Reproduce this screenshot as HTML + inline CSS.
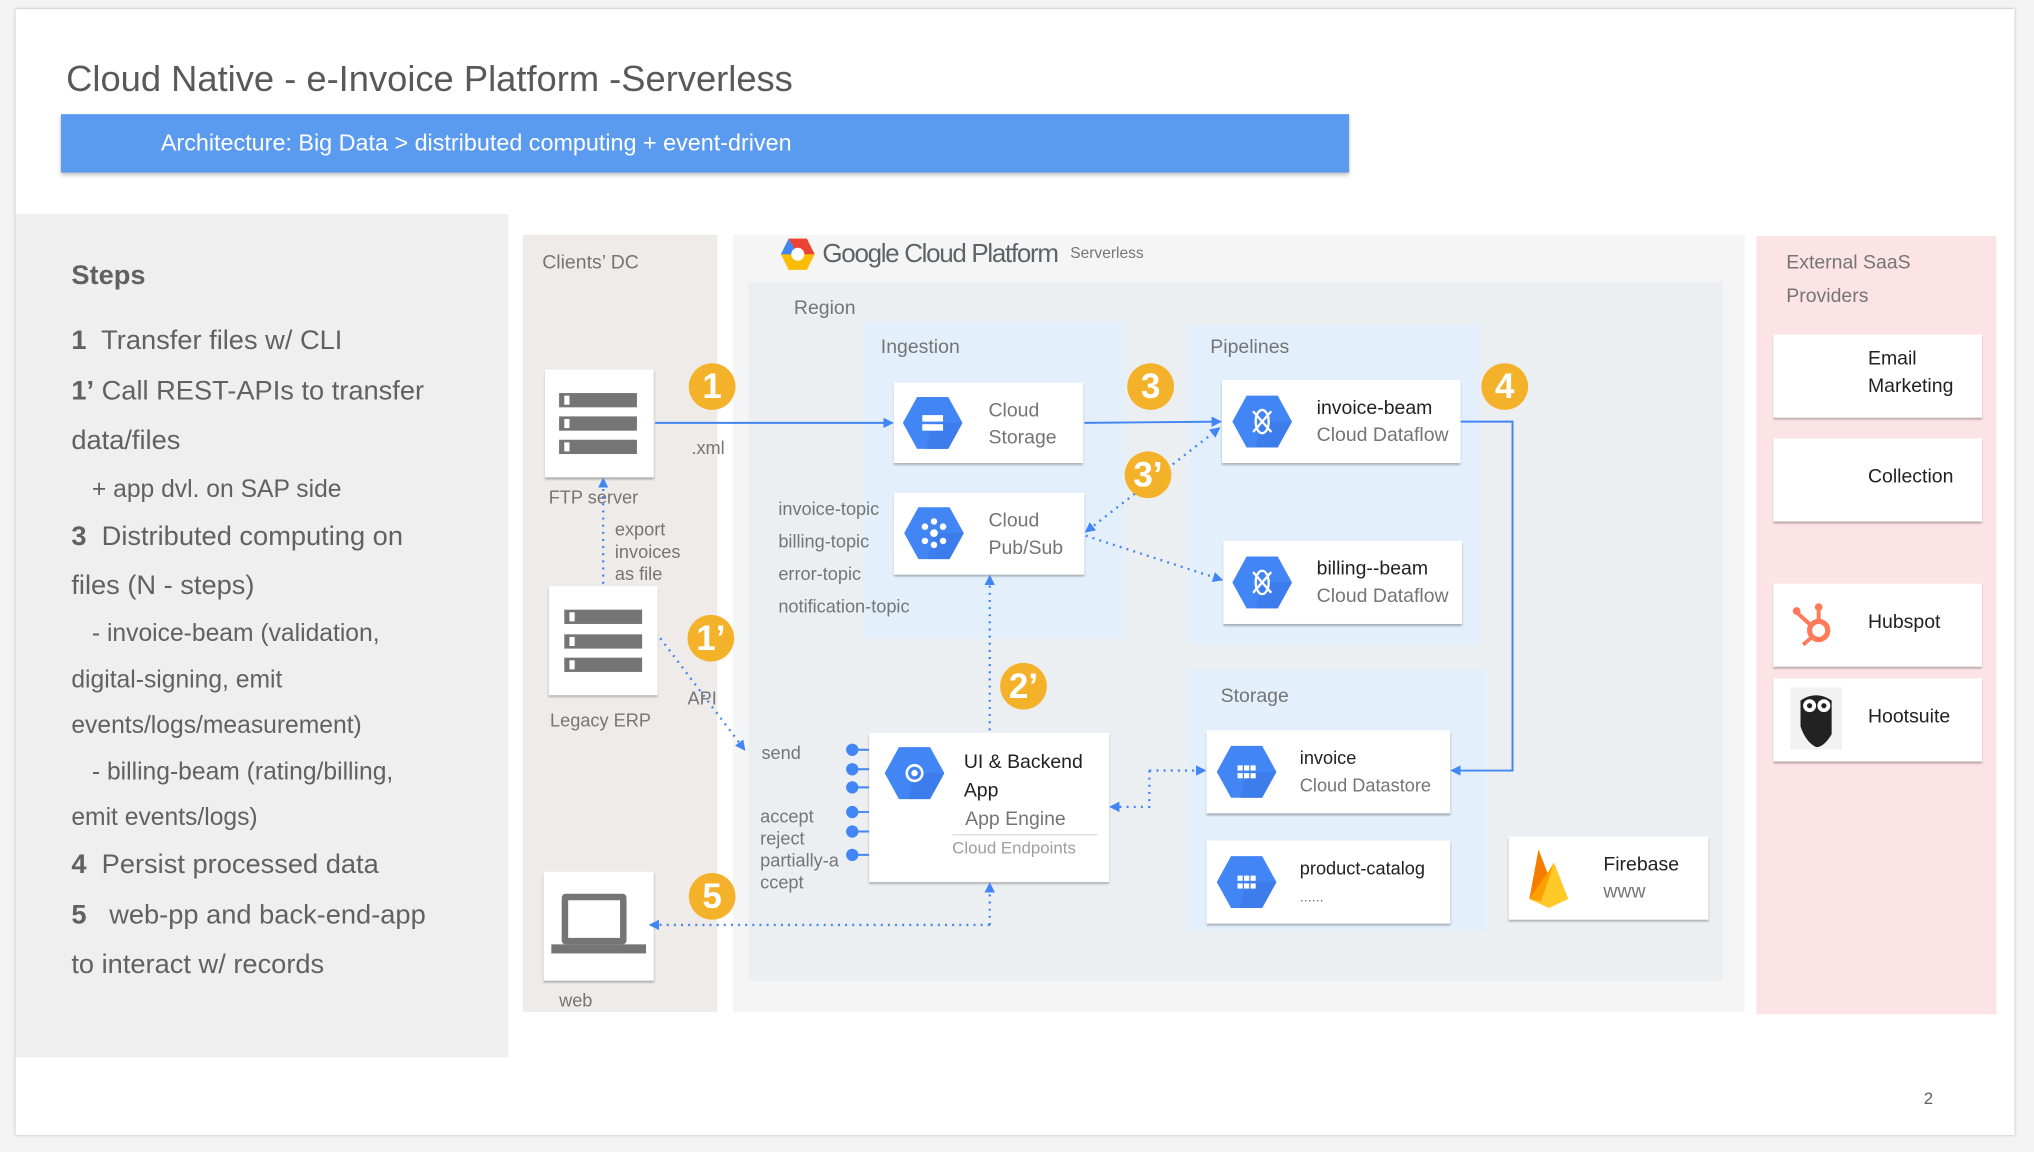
<!DOCTYPE html>
<html><head><meta charset="utf-8">
<style>
html,body{margin:0;padding:0;background:#fff;}
#wrap{width:2034px;height:1152px;overflow:hidden;position:relative;background:#f3f3f3;}
#s{position:absolute;left:0;top:0;width:1568px;height:888px;transform:scale(1.2972);transform-origin:0 0;font-family:"Liberation Sans",sans-serif;}
.a{position:absolute;}
.card{position:absolute;background:#fff;box-shadow:0 1.5px 1.5px rgba(0,0,0,.28);}
.lbl{position:absolute;color:#757575;font-size:15px;}
.t{position:absolute;color:#212121;font-size:15px;line-height:21px;}
.g{color:#757575;}
.badge{position:absolute;width:36px;height:36px;border-radius:50%;background:#f4b22a;color:#fff;font-weight:bold;font-size:27px;text-align:center;line-height:36px;}
.step{position:absolute;left:55px;color:#616161;font-size:21px;}
.srv{position:absolute;width:60px;height:11px;background:#757575;}
.srv:before{content:"";position:absolute;left:4px;top:2px;width:4px;height:7px;background:#fff;}
</style></head><body>
<div id="wrap"><div id="s">
<div class="a" style="left:12px;top:7px;width:1541px;height:868px;background:#fff;box-shadow:0 0 2px rgba(0,0,0,.3);"></div>
<div class="a" style="left:51px;top:45px;font-size:28px;color:#595959;">Cloud Native - e-Invoice Platform -Serverless</div>
<div class="a" style="left:47px;top:88px;width:993px;height:45px;background:#5a9bf0;box-shadow:0 2px 3px rgba(0,0,0,.25);"></div>
<div class="a" style="left:124px;top:100px;font-size:18px;color:#fff;">Architecture: Big Data &gt; distributed computing + event-driven</div>

<div class="a" style="left:12px;top:165px;width:380px;height:650px;background:#efefef;"></div>
<div class="step" style="top:201px;font-weight:bold;font-size:21px;">Steps</div>
<div class="step" style="top:251px;"><b>1</b>&nbsp; Transfer files w/ CLI</div>
<div class="step" style="top:290px;"><b>1’</b> Call REST-APIs to transfer</div>
<div class="step" style="top:328px;">data/files</div>
<div class="step" style="top:367px;font-size:19px;">&nbsp;&nbsp;&nbsp;+ app dvl. on SAP side</div>
<div class="step" style="top:402px;"><b>3</b>&nbsp; Distributed computing on</div>
<div class="step" style="top:440px;">files (N - steps)</div>
<div class="step" style="top:478px;font-size:19px;">&nbsp;&nbsp;&nbsp;- invoice-beam (validation,</div>
<div class="step" style="top:514px;font-size:19px;">digital-signing, emit</div>
<div class="step" style="top:549px;font-size:19px;">events/logs/measurement)</div>
<div class="step" style="top:585px;font-size:19px;">&nbsp;&nbsp;&nbsp;- billing-beam (rating/billing,</div>
<div class="step" style="top:620px;font-size:19px;">emit events/logs)</div>
<div class="step" style="top:655px;"><b>4</b>&nbsp; Persist processed data</div>
<div class="step" style="top:694px;"><b>5</b>&nbsp;&nbsp; web-pp and back-end-app</div>
<div class="step" style="top:732px;">to interact w/ records</div>

<div class="a" style="left:403px;top:181px;width:150px;height:599px;background:#efebe9;"></div>
<div class="lbl" style="left:418px;top:194px;">Clients’ DC</div>
<div class="a" style="left:565px;top:181px;width:780px;height:599px;background:#f5f5f5;"></div>
<div class="a" style="left:577px;top:217px;width:751px;height:539px;background:#eceff1;"></div>
<div class="a" style="left:665px;top:248px;width:202px;height:244px;background:#e3f0fb;"></div>
<div class="a" style="left:916px;top:250px;width:224px;height:247px;background:#e3f0fb;"></div>
<div class="a" style="left:916px;top:516px;width:230px;height:202px;background:#e3f0fb;"></div>
<div class="a" style="left:1354px;top:182px;width:185px;height:600px;background:#fce4e6;"></div>

<svg class="a" style="left:600px;top:182px" width="30" height="28" viewBox="0 0 30 28"><polygon points="8,2 22,2 28,14 22,26 8,26 2,14" fill="#fbbc05"/><polygon points="8,2 22,2 28,14 15,14" fill="#ea4335"/><polygon points="2,14 8,2 15,14" fill="#4285f4"/><circle cx="15" cy="14" r="5" fill="#fff"/></svg>
<div class="a" style="left:634px;top:185px;font-size:20px;color:#5f6368;letter-spacing:-1px;">Google Cloud Platform</div>
<div class="a" style="left:825px;top:188px;font-size:12px;color:#757575;">Serverless</div>
<div class="lbl" style="left:612px;top:229px;">Region</div>
<div class="lbl" style="left:679px;top:259px;">Ingestion</div>
<div class="lbl" style="left:933px;top:259px;">Pipelines</div>
<div class="lbl" style="left:941px;top:528px;">Storage</div>
<div class="lbl" style="left:1377px;top:190px;line-height:26px;">External SaaS<br>Providers</div>

<div class="card" style="left:420px;top:285px;width:84px;height:83px;"><div class="srv" style="left:11px;top:18px"></div><div class="srv" style="left:11px;top:36px"></div><div class="srv" style="left:11px;top:54px"></div></div>
<div class="lbl" style="left:423px;top:375px;font-size:14px;">FTP server</div>
<div class="card" style="left:423px;top:452px;width:84px;height:84px;"><div class="srv" style="left:12px;top:18px"></div><div class="srv" style="left:12px;top:37px"></div><div class="srv" style="left:12px;top:55px"></div></div>
<div class="lbl" style="left:424px;top:547px;font-size:14px;">Legacy ERP</div>
<div class="card" style="left:419px;top:672px;width:85px;height:84px;"><div class="a" style="left:14px;top:17px;width:50px;height:39px;border:5px solid #757575;box-sizing:border-box;border-radius:3px;"></div><div class="a" style="left:6px;top:56px;width:73px;height:7px;background:#757575;"></div></div>
<div class="lbl" style="left:431px;top:763px;font-size:14px;">web</div>
<div class="lbl" style="left:474px;top:400px;font-size:14px;line-height:17px;">export<br>invoices<br>as file</div>
<div class="lbl" style="left:533px;top:337px;font-size:14px;">.xml</div>
<div class="lbl" style="left:530px;top:530px;font-size:14px;">API</div>

<div class="card" style="left:689px;top:295px;width:146px;height:62px;"></div>
<div class="t g" style="left:762px;top:306px;">Cloud<br>Storage</div>
<div class="card" style="left:689px;top:380px;width:147px;height:63px;"></div>
<div class="t g" style="left:762px;top:391px;">Cloud<br>Pub/Sub</div>
<div class="lbl" style="left:600px;top:380px;font-size:14px;line-height:25px;">invoice-topic<br>billing-topic<br>error-topic<br>notification-topic</div>
<div class="card" style="left:942px;top:293px;width:184px;height:64px;"></div>
<div class="t" style="left:1015px;top:304px;">invoice-beam<br><span class="g">Cloud Dataflow</span></div>
<div class="card" style="left:943px;top:417px;width:184px;height:64px;"></div>
<div class="t" style="left:1015px;top:428px;">billing--beam<br><span class="g">Cloud Dataflow</span></div>
<div class="card" style="left:670px;top:565px;width:185px;height:115px;"></div>
<div class="t" style="left:743px;top:577px;line-height:22px;">UI &amp; Backend<br>App</div>
<div class="t g" style="left:744px;top:621px;">App Engine</div>
<div class="a" style="left:734px;top:643px;width:112px;height:1px;background:#ddd;"></div>
<div class="a" style="left:734px;top:646px;font-size:13px;color:#9e9e9e;">Cloud Endpoints</div>
<div class="lbl" style="left:587px;top:572px;font-size:14px;">send</div>
<div class="lbl" style="left:586px;top:621px;font-size:14px;line-height:17px;">accept<br>reject<br>partially-a<br>ccept</div>
<div class="card" style="left:930px;top:563px;width:188px;height:64px;"></div>
<div class="t" style="left:1002px;top:574px;font-size:14px;">invoice<br><span class="g">Cloud Datastore</span></div>
<div class="card" style="left:930px;top:648px;width:188px;height:64px;"></div>
<div class="t" style="left:1002px;top:659px;font-size:14px;">product-catalog<br><span class="g" style="font-size:11px">......</span></div>
<div class="card" style="left:1163px;top:645px;width:154px;height:64px;"></div>
<div class="t" style="left:1236px;top:656px;">Firebase<br><span class="g">www</span></div>
<svg class="a" style="left:1176px;top:653px" width="36" height="48"><polygon points="3,40 10,2 17,20 22,12 33,40 18,47" fill="#ffca28"/><polygon points="3,40 10,2 17,20" fill="#f57c00"/><polygon points="3,40 17,20 22,12 12,42" fill="#ffa000"/></svg>

<div class="card" style="left:1367px;top:258px;width:161px;height:64px;"></div>
<div class="t" style="left:1440px;top:266px;">Email<br>Marketing</div>
<div class="card" style="left:1367px;top:338px;width:161px;height:64px;"></div>
<div class="t" style="left:1440px;top:357px;">Collection</div>
<div class="card" style="left:1367px;top:450px;width:161px;height:64px;"></div>
<div class="t" style="left:1440px;top:469px;">Hubspot</div>
<svg class="a" style="left:1380px;top:462px" width="36" height="38"><circle cx="22" cy="24" r="7" fill="none" stroke="#ff7a59" stroke-width="4"/><line x1="22" y1="17" x2="22" y2="7" stroke="#ff7a59" stroke-width="3"/><line x1="16" y1="20" x2="5" y2="10" stroke="#ff7a59" stroke-width="3"/><line x1="17" y1="29" x2="10" y2="35" stroke="#ff7a59" stroke-width="3"/><circle cx="22" cy="6" r="3" fill="#ff7a59"/><circle cx="5" cy="9" r="3" fill="#ff7a59"/></svg>
<div class="card" style="left:1367px;top:523px;width:161px;height:64px;"></div>
<div class="t" style="left:1440px;top:542px;">Hootsuite</div>
<svg class="a" style="left:1380px;top:530px" width="40" height="48"><rect x="0" y="0" width="40" height="48" fill="#f2f2f2"/><path d="M8,10 Q20,2 32,10 L32,36 Q26,46 20,46 Q12,42 8,30 Z" fill="#222"/><circle cx="15" cy="14" r="5" fill="#fff"/><circle cx="26" cy="14" r="5" fill="#fff"/><circle cx="15" cy="14" r="2" fill="#222"/><circle cx="26" cy="14" r="2" fill="#222"/></svg>

<svg class="a" style="left:0;top:0" width="1568" height="888">
<defs>
<marker id="ar" markerWidth="8" markerHeight="8" refX="7" refY="4" orient="auto" markerUnits="userSpaceOnUse" viewBox="0 0 8 8"><path d="M0,0 L8,4 L0,8 Z" fill="#4285f4"/></marker>
<marker id="as" markerWidth="8" markerHeight="8" refX="1" refY="4" orient="auto" markerUnits="userSpaceOnUse" viewBox="0 0 8 8"><path d="M8,0 L0,4 L8,8 Z" fill="#4285f4"/></marker>
<g id="hex"><polygon points="-12,-20 12,-20 23,0 12,20 -12,20 -23,0" fill="#4285f4"/><polygon points="0,0 23,0 12,20 -5,20" fill="#3b78e7" opacity=".7"/></g>
</defs>
<g stroke="#4285f4" stroke-width="1.5" fill="none">
<line x1="505" y1="326" x2="688" y2="326" marker-end="url(#ar)"/>
<line x1="836" y1="326" x2="941" y2="325" marker-end="url(#ar)"/>
<polyline points="1126,325 1166,325 1166,594 1119,594" marker-end="url(#ar)"/>
</g>
<g stroke="#4285f4" stroke-width="1.8" fill="none" stroke-dasharray="1.5 4">
<line x1="940" y1="330" x2="837" y2="410" marker-end="url(#ar)" marker-start="url(#as)"/>
<line x1="837" y1="413" x2="942" y2="447" marker-end="url(#ar)"/>
<line x1="763" y1="563" x2="763" y2="444" marker-end="url(#ar)"/>
<line x1="465" y1="450" x2="465" y2="369" marker-end="url(#ar)"/>
<line x1="509" y1="492" x2="574" y2="578" marker-end="url(#ar)"/>
<polyline points="763,713 763,681" marker-end="url(#ar)"/>
<polyline points="763,713 501,713" marker-end="url(#ar)"/>
<polyline points="886,594 886,622 856,622" marker-end="url(#ar)"/>
<polyline points="886,594 929,594" marker-end="url(#ar)"/>
</g>
<g fill="#4285f4" stroke="#4285f4" stroke-width="1.5">
<circle cx="657" cy="578" r="4"/><line x1="657" y1="578" x2="670" y2="578"/>
<circle cx="657" cy="593" r="4"/><line x1="657" y1="593" x2="670" y2="593"/>
<circle cx="657" cy="607" r="4"/><line x1="657" y1="607" x2="670" y2="607"/>
<circle cx="657" cy="626" r="4"/><line x1="657" y1="626" x2="670" y2="626"/>
<circle cx="657" cy="641" r="4"/><line x1="657" y1="641" x2="670" y2="641"/>
<circle cx="657" cy="659" r="4"/><line x1="657" y1="659" x2="670" y2="659"/>
</g>
<use href="#hex" x="719" y="326"/><use href="#hex" x="720" y="411"/>
<use href="#hex" x="973" y="325"/><use href="#hex" x="973" y="449"/>
<use href="#hex" x="705" y="596"/><use href="#hex" x="961" y="595"/><use href="#hex" x="961" y="680"/>
<g fill="#fff" stroke="#fff">
<rect x="711" y="320" width="16" height="5" stroke="none"/><rect x="711" y="327" width="16" height="5" stroke="none"/>
<circle cx="720" cy="411" r="2.5"/><circle cx="713" cy="406" r="2"/><circle cx="727" cy="406" r="2"/><circle cx="713" cy="417" r="2"/><circle cx="727" cy="417" r="2"/><circle cx="720" cy="402" r="2"/><circle cx="720" cy="420" r="2"/>
<circle cx="705" cy="596" r="6" fill="none" stroke-width="2"/><circle cx="705" cy="596" r="2"/>
<rect x="954" y="590" width="4" height="4" stroke="none"/><rect x="959" y="590" width="4" height="4" stroke="none"/><rect x="964" y="590" width="4" height="4" stroke="none"/><rect x="954" y="596" width="4" height="4" stroke="none"/><rect x="959" y="596" width="4" height="4" stroke="none"/><rect x="964" y="596" width="4" height="4" stroke="none"/>
<rect x="954" y="675" width="4" height="4" stroke="none"/><rect x="959" y="675" width="4" height="4" stroke="none"/><rect x="964" y="675" width="4" height="4" stroke="none"/><rect x="954" y="681" width="4" height="4" stroke="none"/><rect x="959" y="681" width="4" height="4" stroke="none"/><rect x="964" y="681" width="4" height="4" stroke="none"/>
</g>
<g fill="none" stroke="#fff" stroke-width="1.8">
<ellipse cx="973" cy="325" rx="5" ry="9"/><line x1="966" y1="317" x2="980" y2="333"/><line x1="980" y1="317" x2="966" y2="333"/>
<ellipse cx="973" cy="449" rx="5" ry="9"/><line x1="966" y1="441" x2="980" y2="457"/><line x1="980" y1="441" x2="966" y2="457"/>
</g>
</svg>

<div class="badge" style="left:531px;top:280px;">1</div>
<div class="badge" style="left:869px;top:280px;">3</div>
<div class="badge" style="left:867px;top:348px;">3’</div>
<div class="badge" style="left:1142px;top:280px;">4</div>
<div class="badge" style="left:530px;top:474px;">1’</div>
<div class="badge" style="left:771px;top:511px;">2’</div>
<div class="badge" style="left:531px;top:673px;">5</div>
<div class="a" style="left:1483px;top:839px;font-size:13px;color:#616161;">2</div>
</div></div>
</body></html>
